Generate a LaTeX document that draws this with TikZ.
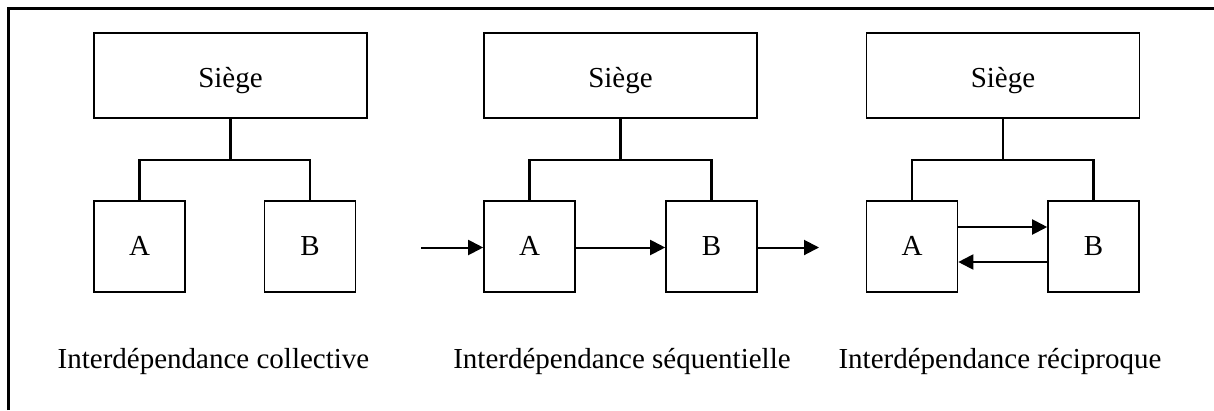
\documentclass[tikz,border=0pt]{standalone}
\usepackage{fontspec}
\setmainfont{Liberation Serif}
\usetikzlibrary{arrows.meta}
\begin{document}
\begin{tikzpicture}[x=1bp,y=-1bp,
  box/.style={draw,line width=1.6bp,inner sep=0pt,text depth=0pt,font=\fontsize{29bp}{34bp}\selectfont},
  siege/.style={box,minimum width=273bp,minimum height=85bp,text height=23bp},
  unit/.style={box,minimum width=91bp,minimum height=91bp,text height=17bp},
  link/.style={line width=2.2bp},
  flow/.style={line width=2bp,-{Triangle[length=15bp,width=15bp]}},
  caption/.style={anchor=base,inner sep=0pt,font=\fontsize{29bp}{34bp}\selectfont},
  frame/.style={line width=2.8bp}]
\useasboundingbox (0,0) rectangle (1214,410);
% frame (top and left only visible)
\coordinate (f0) at (8.5,410);
\coordinate (f1) at (8.5,8.5);
\coordinate (f2) at (1214,8.5);
\draw[frame] (f0) -- (f1) -- (f2);

% panel 1
\node[siege] (s1) at (230.5,75.5) {Siège};
\node[unit] (a1) at (139.5,246.5) {A};
\node[unit] (b1) at (310,246.5) {B};
\coordinate (j1) at (230.5,160);
\draw[link] (s1.south) -- (j1);
\draw[link] (a1.north) -- (a1.north |- j1) -- (b1.north |- j1) -- (b1.north);
\node[caption] (c1) at (213.5,368) {Interdépendance collective};

% panel 2
\node[siege] (s2) at (620.5,75.5) {Siège};
\node[unit] (a2) at (529.5,246.5) {A};
\node[unit] (b2) at (711.5,246.5) {B};
\coordinate (j2) at (620.5,160);
\draw[link] (s2.south) -- (j2);
\draw[link] (a2.north) -- (a2.north |- j2) -- (b2.north |- j2) -- (b2.north);
\coordinate (in2) at (421,247.5);
\coordinate (out2) at (819,247.5);
\draw[flow] (in2) -- (in2 -| a2.west);
\draw[flow] ([yshift=-1bp]a2.east) -- ([yshift=-1bp]b2.west);
\draw[flow] ([yshift=-1bp]b2.east) -- (out2);
\node[caption] (c2) at (622,368) {Interdépendance séquentielle};

% panel 3
\node[siege] (s3) at (1003,75.5) {Siège};
\node[unit] (a3) at (912,246.5) {A};
\node[unit] (b3) at (1093.5,246.5) {B};
\coordinate (j3) at (1003,160);
\draw[link] (s3.south) -- (j3);
\draw[link] (a3.north) -- (a3.north |- j3) -- (b3.north |- j3) -- (b3.north);
\draw[flow] ([yshift=19.5bp]a3.east) -- ([yshift=19.5bp]b3.west);
\draw[flow] ([yshift=-15.5bp]b3.west) -- ([yshift=-15.5bp]a3.east);
\node[caption] (c3) at (1000,368) {Interdépendance réciproque};
\end{tikzpicture}
\end{document}
